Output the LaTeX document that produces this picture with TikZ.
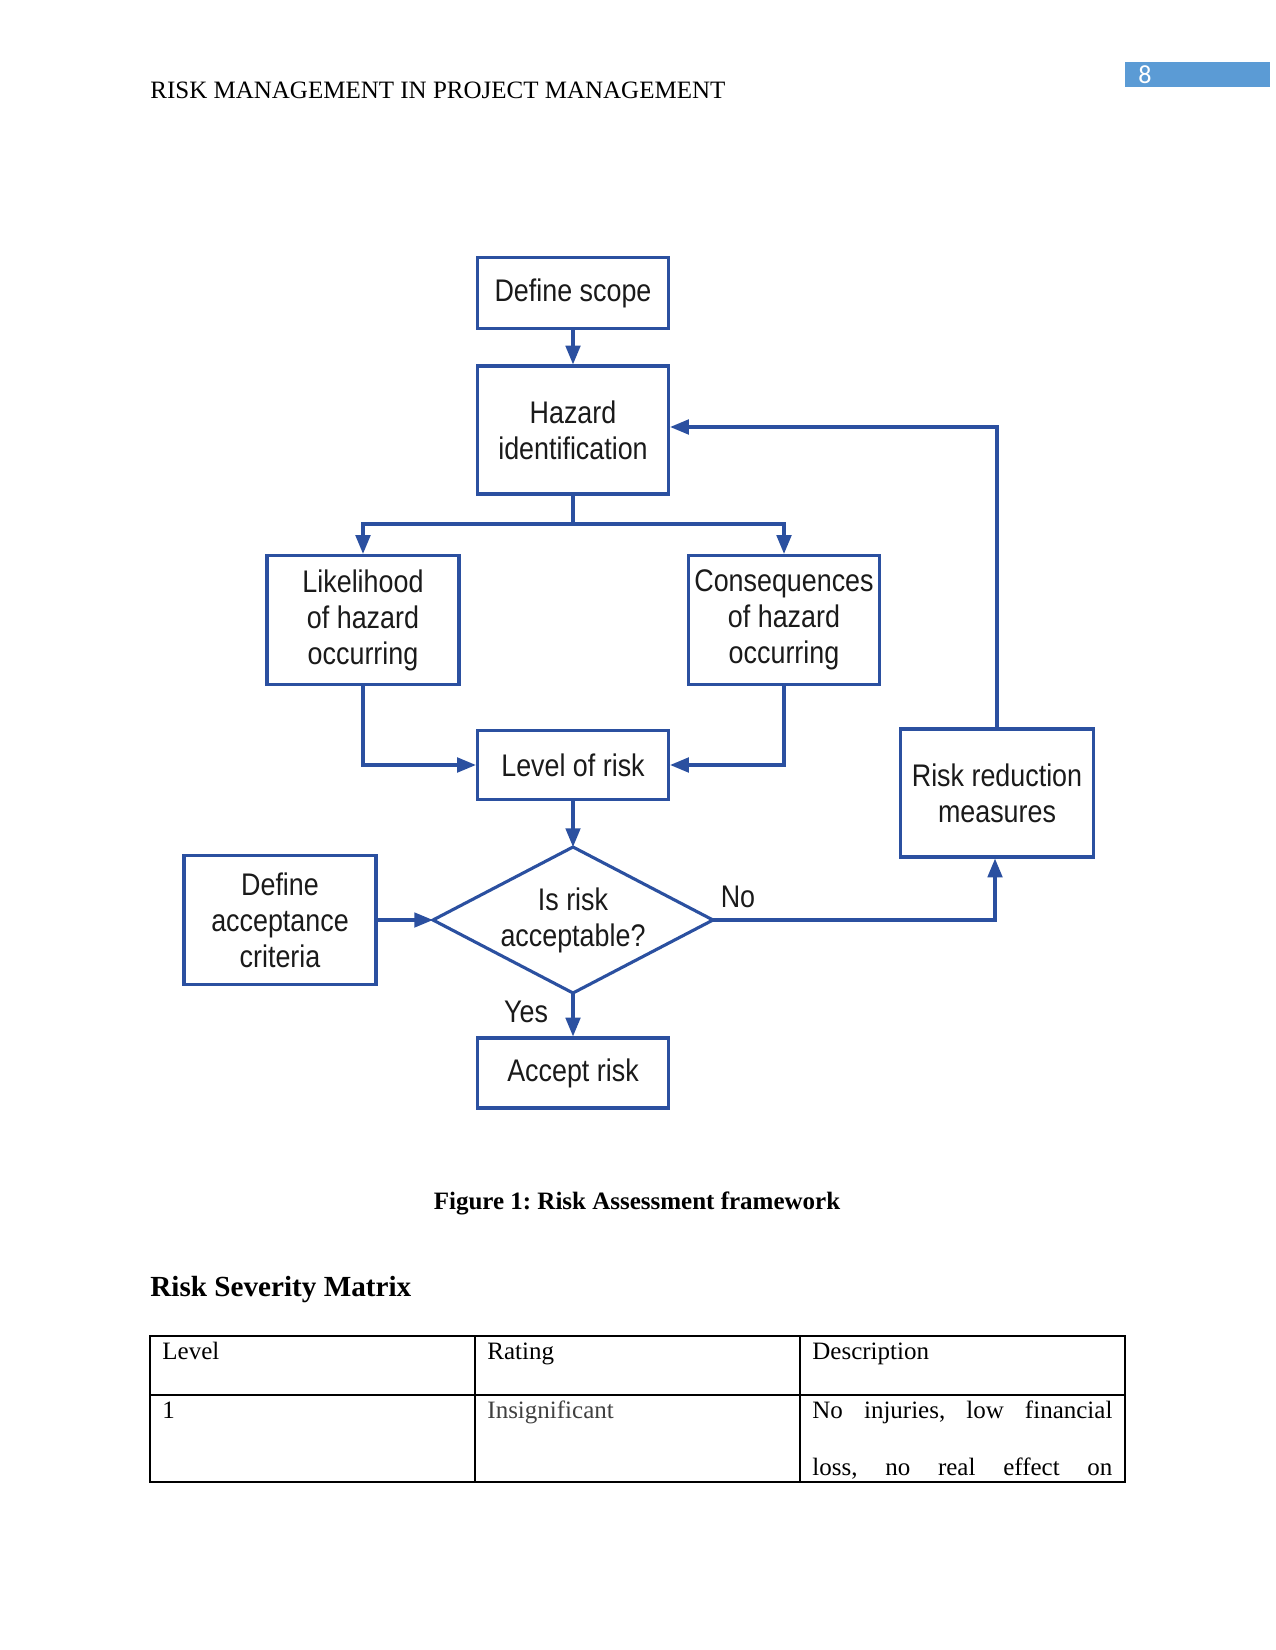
\documentclass[tikz,border=0pt]{standalone}
\usepackage{fontspec}
\setmainfont{Liberation Serif}
\newfontfamily\flowfont[FakeStretch=0.86]{Liberation Sans}
\newfontfamily\pnfont{Carlito}
\usetikzlibrary{arrows.meta}
\definecolor{fblue}{HTML}{2B50A0}
\definecolor{pnblue}{HTML}{5B9BD5}
\definecolor{ftext}{HTML}{1A1A1A}
\tikzset{
  box/.style={draw=fblue, line width=1.5pt, align=center, text=ftext,
    font=\flowfont\fontsize{15}{17.3}\selectfont, inner sep=0pt},
  lbl/.style={text=ftext, font=\flowfont\fontsize{15}{17.3}\selectfont, inner sep=0pt},
  conn/.style={draw=fblue, line width=1.5pt, -{Triangle[length=9pt,width=7pt]}},
  tline/.style={draw=black, line width=0.7pt},
  ttext/.style={anchor=base west, inner sep=0pt, font=\fontsize{12}{14}\selectfont},
}
\frenchspacing
\begin{document}
\begin{tikzpicture}[x=0.48pt,y=-0.48pt]
\useasboundingbox (0,0) rectangle (1275,1650);
% header
\node[anchor=base west, inner sep=0pt, font=\fontsize{12}{14}\selectfont] (hdr) at (150,99) {RISK MANAGEMENT IN PROJECT MANAGEMENT};
\node[fill=pnblue, minimum width=145*0.48pt, minimum height=25*0.48pt, inner sep=0pt] (pnbox) at (1197.5,74.5) {};
\node[text=white, font=\pnfont\fontsize{12.5}{14}\selectfont, inner sep=0pt] (pn) at (1145,74.5) {8};

% flowchart boxes
\node[box, minimum width=191*0.48pt, minimum height=71*0.48pt] (scope) at (573,293) {Define scope};
\node[box, minimum width=191*0.48pt, minimum height=128*0.48pt] (hazard) at (573,430) {Hazard\\identification};
\node[box, minimum width=192*0.48pt, minimum height=129*0.48pt] (like) at (363,620) {Likelihood\\of hazard\\occurring};
\node[box, minimum width=191*0.48pt, minimum height=129*0.48pt] (cons) at (784,620) {Consequences\\of hazard\\occurring};
\node[box, minimum width=191*0.48pt, minimum height=69*0.48pt] (level) at (573,765) {Level of risk};
\node[box, minimum width=193*0.48pt, minimum height=128*0.48pt] (red) at (997,793) {Risk reduction\\measures};
\node[box, minimum width=192*0.48pt, minimum height=129*0.48pt] (acc) at (280,920) {Define\\acceptance\\criteria};
\node[box, minimum width=191*0.48pt, minimum height=70*0.48pt] (accept) at (573,1073) {Accept risk};

% diamond
\coordinate (dT) at (573,847);
\coordinate (dB) at (573,993);
\coordinate (dL) at (433,920);
\coordinate (dR) at (713,920);
\draw[fblue, line width=1.5pt, line join=miter] (dT) -- (dR) -- (dB) -- (dL) -- cycle;
\node[lbl, align=center] (dia) at (573,920) {Is risk\\acceptable?};

% connectors
\draw[conn] (scope.south) -- (hazard.north);
\coordinate (br) at (573,524);
\draw[draw=fblue, line width=1.5pt] (hazard.south) -- (br);
\draw[conn] (br) -| (like.north);
\draw[conn] (br) -| (cons.north);
\draw[conn] (like.south) |- (level.west);
\draw[conn] (cons.south) |- (level.east);
\draw[conn] (level.south) -- (dT);
\draw[conn] (acc.east) -- (dL);
\draw[conn] (dB) -- (accept.north);
\coordinate (noc) at (995,920);
\draw[conn] (dR) -- (noc) -- (red.south -| noc);
\coordinate (fb) at (997,427);
\draw[conn] (red.north) -- (fb) -- (fb -| hazard.east);
\node[lbl] (no) at (738,897) {No};
\node[lbl] (yes) at (526,1012) {Yes};

% caption
\node[anchor=base, inner sep=0pt, font=\bfseries\fontsize{12}{14}\selectfont] (cap) at (637,1209) {Figure 1: Risk Assessment framework};
\node[anchor=base west, inner sep=0pt, font=\bfseries\fontsize{14}{16}\selectfont] (rsm) at (150,1296) {Risk Severity Matrix};

% table
\draw[tline] (150,1336) rectangle (1125,1482);
\draw[tline] (150,1395) -- (1125,1395);
\draw[tline] (475,1336) -- (475,1482);
\draw[tline] (800,1336) -- (800,1482);
\node[ttext] (c11) at (162,1359) {Level};
\node[ttext] (c12) at (487,1359) {Rating};
\node[ttext] (c13) at (812,1359) {Description};
\node[ttext] (c21) at (162,1418) {1};
\node[ttext, text=black!75] (c22) at (487,1418) {Insignificant};
\node[ttext] (c23) at (812,1418) {\hbox to 144pt{No\hfill injuries,\hfill low\hfill financial}};
\node[ttext] (c24) at (812,1475) {\hbox to 144pt{loss,\hfill no\hfill real\hfill effect\hfill on}};
\end{tikzpicture}
\end{document}
